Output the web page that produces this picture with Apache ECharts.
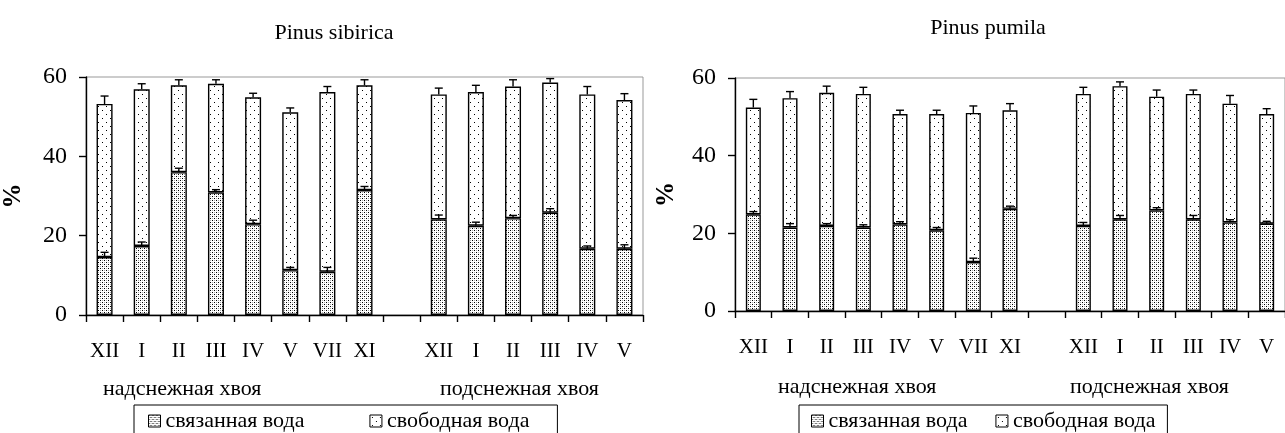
<!DOCTYPE html>
<html><head><meta charset="utf-8">
<script src="https://cdn.jsdelivr.net/npm/echarts@6/dist/echarts.min.js"></script>
<style>html,body{margin:0;padding:0;background:#fff}#c{width:1285px;height:433px}</style>
</head><body><div id="c"></div>
<script>
// ---- data ----
const categories = ['XII','I','II','III','IV','V','VII','XI','','XII','I','II','III','IV','V'];
const yTicks = [0, 20, 40, 60];
const titles = ['Pinus sibirica', 'Pinus pumila'];
const groupLabels = ['надснежная хвоя', 'подснежная хвоя'];
const seriesNames = ['связанная вода', 'свободная вода'];

// Pinus sibirica
const sibBound    = [14.6, 17.4, 36.0, 30.9, 22.9, 11.3, 10.9, 31.5, null, 24.1, 22.5, 24.4, 25.8, 16.7, 16.7];
const sibTotal    = [53.2, 56.9, 57.9, 58.3, 54.9, 51.1, 56.2, 57.9, null, 55.6, 56.2, 57.6, 58.6, 55.6, 54.2];
const sibBoundErr = [1.2, 1.0, 1.0, 0.7, 1.0, 0.7, 1.1, 0.9, null, 1.1, 0.9, 0.7, 1.0, 0.7, 1.0];
const sibTotalErr = [2.0, 1.4, 1.4, 1.0, 1.0, 1.1, 1.4, 1.4, null, 1.6, 1.7, 1.7, 1.0, 2.0, 1.6];

// Pinus pumila
const pumBound    = [24.9, 21.5, 21.9, 21.5, 22.3, 20.8, 12.6, 26.3, null, 21.9, 23.6, 25.9, 23.6, 22.8, 22.5];
const pumTotal    = [52.4, 54.8, 56.2, 55.9, 50.7, 50.7, 51.0, 51.7, null, 55.9, 57.9, 55.2, 55.9, 53.4, 50.7];
const pumBoundErr = [0.7, 1.0, 0.6, 0.7, 0.7, 0.7, 1.0, 0.7, null, 0.9, 1.0, 0.7, 1.0, 0.7, 0.6];
const pumTotalErr = [2.1, 1.7, 1.7, 1.7, 1.0, 1.0, 1.8, 1.7, null, 1.7, 1.1, 1.7, 1.0, 2.1, 1.4];

// ---- styling helpers ----
const FONT = "'Liberation Serif', 'Times New Roman', serif";
function makePattern(size, dots) {
  const c = document.createElement('canvas');
  c.width = size; c.height = size;
  const ctx = c.getContext('2d');
  ctx.fillStyle = '#fff'; ctx.fillRect(0, 0, size, size);
  dots.forEach(d => { ctx.fillStyle = d[2] || '#000'; ctx.fillRect(d[0], d[1], 1, 1); });
  return { image: c, repeat: 'repeat' };
}
const boundFill = makePattern(4, [[0,0],[2,2],[2,0,'#aaa'],[0,2,'#aaa']]);
const freeFill = makePattern(8, [[2,2],[6,6]]);

function diff(a, b) { return a.map((v, i) => (v == null || b[i] == null) ? null : +(v - b[i]).toFixed(2)); }
function errData(tops, errs) {
  return tops.map((v, i) => v == null ? null : [i, v, errs[i]]).filter(d => d);
}
function errRender(params, api) {
  const x = api.value(0), y = api.value(1), e = api.value(2);
  const p0 = api.coord([x, y]);
  const p1 = api.coord([x, y + e]);
  const hw = 4;
  const style = { stroke: '#000', lineWidth: 1.4 };
  return { type: 'group', children: [
    { type: 'line', shape: { x1: p0[0], y1: p0[1], x2: p1[0], y2: p1[1] }, style },
    { type: 'line', shape: { x1: p1[0] - hw, y1: p1[1], x2: p1[0] + hw, y2: p1[1] }, style }
  ]};
}

const grids = [
  { left: 83, top: 77, width: 560, height: 238 },
  { left: 735, top: 78, width: 556, height: 233 }
];
const datasets = [
  { bound: sibBound, total: sibTotal, be: sibBoundErr, te: sibTotalErr, bw: 16 },
  { bound: pumBound, total: pumTotal, be: pumBoundErr, te: pumTotalErr, bw: 15 }
];
const legendText = { fontFamily: FONT, fontSize: 22, color: '#000' };

const option = {
  animation: false,
  backgroundColor: '#fff',
  title: [
    { text: titles[0], left: 329, top: 17, textAlign: 'center', textStyle: { fontFamily: FONT, fontSize: 22, fontWeight: 'normal', color: '#000' } },
    { text: titles[1], left: 983, top: 12, textAlign: 'center', textStyle: { fontFamily: FONT, fontSize: 22, fontWeight: 'normal', color: '#000' } }
  ],
  grid: grids.map(g => Object.assign({ show: true, borderColor: '#999', borderWidth: 1, backgroundColor: 'transparent' }, g)),
  xAxis: grids.map((g, i) => ({
    type: 'category', gridIndex: i, data: categories, boundaryGap: true,
    axisLine: { lineStyle: { color: '#000', width: 1.4 } },
    axisTick: { show: true, interval: 0, length: 7, alignWithLabel: false, lineStyle: { color: '#000', width: 1.4 } },
    axisLabel: { interval: 0, margin: 26, fontFamily: FONT, fontSize: 21, color: '#000' }
  })),
  yAxis: grids.map((g, i) => ({
    type: 'value', gridIndex: i, min: yTicks[0], max: yTicks[yTicks.length - 1], interval: yTicks[1] - yTicks[0],
    name: '%', nameLocation: 'middle', nameGap: i === 0 ? 60 : 56, nameRotate: 90,
    nameTextStyle: { fontFamily: FONT, fontSize: 25, fontWeight: 'bold', color: '#000' },
    splitLine: { show: false },
    axisLine: { show: true, lineStyle: { color: '#000', width: 1.4 } },
    axisTick: { show: true, length: 7, lineStyle: { color: '#000', width: 1.4 } },
    axisLabel: { margin: 19, fontFamily: FONT, fontSize: 24, color: '#000' }
  })),
  legend: [
    { left: 134, top: 405, data: seriesNames, icon: 'rect', itemWidth: 12, itemHeight: 12, itemGap: 65,
      padding: [5, 28, 20, 14], borderColor: '#000', borderWidth: 1,
      itemStyle: { borderColor: '#000', borderWidth: 1 }, textStyle: legendText },
    { left: 799, top: 405, data: seriesNames, icon: 'rect', itemWidth: 12, itemHeight: 12, itemGap: 28,
      padding: [5, 12, 3, 12], borderColor: '#000', borderWidth: 1,
      itemStyle: { borderColor: '#000', borderWidth: 1 }, textStyle: legendText }
  ],
  graphic: [
    { type: 'text', left: 103, top: 378, style: { text: groupLabels[0], font: '22px ' + FONT, fill: '#000' } },
    { type: 'text', left: 440, top: 378, style: { text: groupLabels[1], font: '22px ' + FONT, fill: '#000' } },
    { type: 'text', left: 778, top: 376, style: { text: groupLabels[0], font: '22px ' + FONT, fill: '#000' } },
    { type: 'text', left: 1070, top: 376, style: { text: groupLabels[1], font: '22px ' + FONT, fill: '#000' } }
  ],
  series: []
};

datasets.forEach((d, i) => {
  option.series.push(
    { name: seriesNames[0], type: 'bar', stack: 's' + i, xAxisIndex: i, yAxisIndex: i, barWidth: d.bw,
      data: d.bound, itemStyle: { color: boundFill, borderColor: '#000', borderWidth: 1.4 } },
    { name: seriesNames[1], type: 'bar', stack: 's' + i, xAxisIndex: i, yAxisIndex: i, barWidth: d.bw,
      data: diff(d.total, d.bound), itemStyle: { color: freeFill, borderColor: '#000', borderWidth: 1.4 } },
    { type: 'custom', xAxisIndex: i, yAxisIndex: i, renderItem: errRender, data: errData(d.bound, d.be), z: 5 },
    { type: 'custom', xAxisIndex: i, yAxisIndex: i, renderItem: errRender, data: errData(d.total, d.te), z: 5 }
  );
});

const chart = echarts.init(document.getElementById('c'));
chart.setOption(option);
</script>
</body></html>
